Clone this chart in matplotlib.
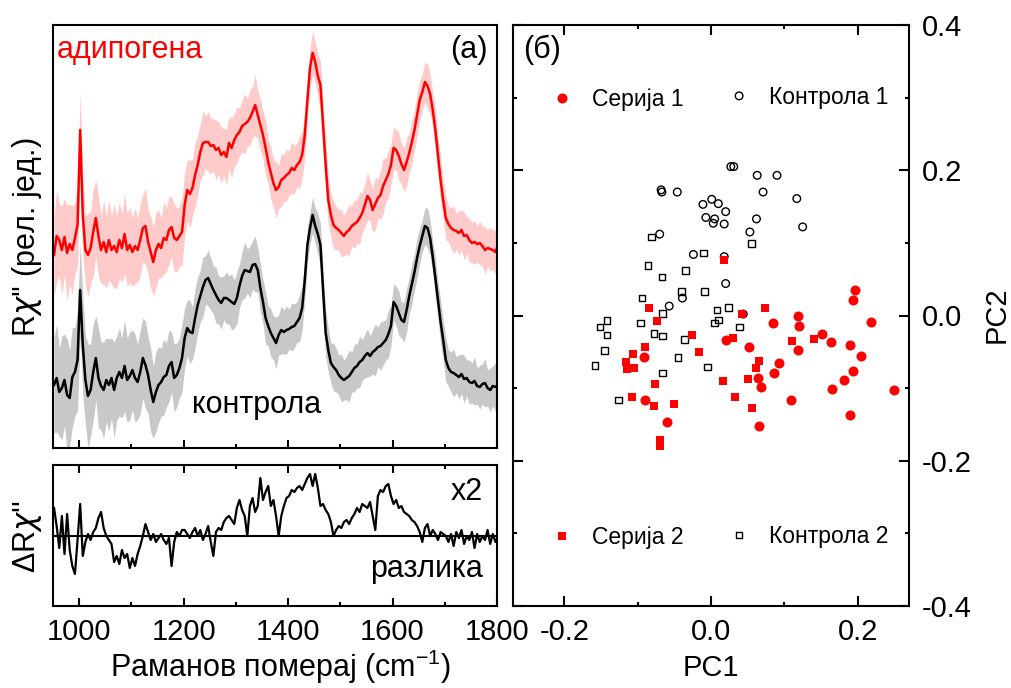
import numpy as np
import matplotlib
matplotlib.use("Agg")
import matplotlib.pyplot as plt
from matplotlib.ticker import MultipleLocator

plt.rcParams['font.family'] = ['Liberation Sans', 'DejaVu Sans']
plt.rcParams['mathtext.fontset'] = 'custom'
plt.rcParams['mathtext.rm'] = 'Liberation Sans'
plt.rcParams['mathtext.it'] = 'DejaVu Sans:italic'
plt.rcParams['mathtext.default'] = 'regular'
plt.rcParams['font.size'] = 21

# ---------------- Raman spectra (arbitrary units) ----------------
shift = np.arange(952, 1803, 5)  # Raman shift, cm^-1

adipo = np.array([
    193, 212, 208, 198, 211, 195, 204, 198, 210, 223,
    318, 233, 198, 193, 200, 216, 230, 212, 198, 206,
    196, 208, 198, 202, 196, 208, 200, 214, 198, 203,
    196, 202, 198, 208, 220, 222, 206, 196, 186, 198,
    204, 200, 210, 208, 218, 221, 210, 208, 212, 216,
    243, 258, 254, 260, 273, 283, 296, 305, 306, 306,
    302, 303, 298, 300, 293, 296, 291, 305, 300, 308,
    313, 316, 322, 324, 326, 330, 336, 343, 333, 323,
    313, 300, 286, 275, 265, 258, 261, 268, 270, 273,
    275, 280, 278, 283, 286, 293, 313, 348, 380, 395,
    386, 372, 363, 323, 283, 248, 233, 223, 220, 218,
    215, 212, 216, 218, 222, 224, 226, 230, 235, 243,
    252, 248, 238, 244, 250, 253, 262, 268, 274, 283,
    300, 298, 292, 284, 278, 286, 295, 306, 318, 333,
    348, 356, 366, 362, 354, 338, 318, 293, 268, 248,
    230, 224, 220, 218, 217, 215, 218, 212, 213, 208,
    205, 206, 204, 205, 202, 198, 200, 199, 198, 196,
    203])

adipo_sd = np.array([
    40, 46, 36, 44, 38, 48, 40, 44, 36, 42,
    38, 40, 34, 42, 36, 44, 38, 40, 34, 42,
    36, 40, 34, 42, 36, 38, 34, 40, 36, 38,
    34, 38, 32, 36, 34, 38, 32, 36, 34, 38,
    34, 30, 36, 32, 34, 30, 34, 32, 30, 34,
    32, 30, 34, 28, 32, 30, 28, 32, 26, 30,
    28, 26, 30, 26, 28, 24, 28, 26, 30, 26,
    28, 24, 26, 30, 24, 28, 26, 30, 24, 26,
    24, 28, 22, 26, 24, 28, 22, 26, 24, 26,
    22, 26, 24, 22, 26, 24, 22, 20, 20, 22,
    20, 22, 24, 22, 26, 24, 22, 24, 22, 20,
    24, 20, 22, 26, 20, 24, 22, 26, 20, 22,
    24, 20, 22, 26, 20, 24, 28, 22, 24, 20,
    22, 20, 24, 20, 22, 24, 20, 22, 20, 22,
    20, 18, 20, 22, 20, 18, 22, 20, 22, 20,
    22, 18, 20, 24, 18, 22, 20, 24, 18, 22,
    20, 22, 18, 22, 20, 24, 18, 22, 20, 22,
    20])

control = np.array([
    63, 70, 56, 60, 68, 53, 50, 71, 76, 88,
    158, 103, 68, 52, 58, 76, 90, 70, 62, 58,
    68, 63, 70, 58, 70, 76, 70, 82, 68, 72,
    78, 70, 66, 76, 90, 83, 73, 58, 46, 56,
    63, 66, 71, 73, 82, 86, 70, 73, 80, 90,
    110, 120, 116, 115, 130, 143, 152, 161, 168, 170,
    164, 158, 153, 148, 145, 150, 150, 148, 146, 144,
    150, 162, 172, 178, 177, 176, 183, 184, 178, 160,
    146, 130, 122, 115, 110, 105, 113, 118, 116, 118,
    119, 121, 122, 126, 130, 140, 168, 203, 220, 233,
    222, 214, 203, 158, 115, 98, 85, 81, 78, 73,
    70, 68, 70, 72, 76, 80, 82, 86, 88, 92,
    95, 92, 96, 98, 101, 102, 105, 108, 114, 122,
    146, 142, 135, 128, 126, 138, 152, 164, 176, 190,
    202, 212, 222, 220, 210, 191, 170, 148, 126, 108,
    88, 80, 76, 75, 73, 71, 74, 69, 70, 66,
    65, 67, 62, 61, 64, 65, 60, 58, 62, 61,
    63])

control_sd = np.array([
    48, 54, 44, 52, 46, 56, 48, 50, 44, 50,
    46, 50, 44, 52, 46, 48, 42, 50, 44, 48,
    42, 46, 40, 48, 42, 44, 40, 46, 42, 44,
    40, 44, 38, 42, 40, 44, 38, 42, 36, 40,
    38, 34, 38, 32, 36, 30, 34, 32, 30, 34,
    30, 28, 32, 26, 30, 28, 26, 30, 24, 28,
    26, 24, 28, 24, 26, 22, 26, 24, 28, 24,
    26, 22, 24, 28, 22, 26, 24, 28, 22, 24,
    22, 26, 20, 24, 22, 26, 20, 24, 22, 24,
    20, 24, 22, 20, 24, 22, 20, 18, 16, 18,
    18, 20, 22, 20, 24, 22, 20, 24, 22, 20,
    24, 20, 22, 26, 20, 24, 22, 26, 20, 22,
    24, 20, 22, 26, 20, 24, 22, 20, 24, 20,
    18, 20, 22, 18, 20, 22, 18, 20, 18, 20,
    18, 16, 18, 20, 18, 16, 20, 18, 22, 20,
    22, 18, 20, 24, 18, 22, 20, 24, 18, 22,
    20, 24, 18, 22, 20, 24, 18, 22, 20, 24,
    20])

# difference spectrum (already multiplied by 2)
difference = np.array([
    28, 10, -12, 20, -18, 22, -14, -30, -38, -4,
    32, -20, -6, 2, -4, 4, 8, 18, 24, 8,
    0, -4, -8, -26, -20, -28, -14, -22, -18, -32,
    -22, -30, -18, -10, 0, 12, 4, -4, 2, -6,
    -2, 2, -4, -8, -2, -30, -6, 4, 0, 6,
    6, 2, -2, 4, 8, 0, 6, -4, 2, 10,
    -6, -20, 4, 8, 6, 14, 18, 20, 16, 12,
    28, 36, 26, 20, 0, 30, 38, 24, 30, 58,
    36, 44, 50, 30, 36, 20, 0, 20, 30, 38,
    40, 46, 44, 48, 50, 46, 52, 58, 62, 50,
    62, 48, 30, 32, 26, 22, 14, 0, 6, 10,
    8, 14, 16, 12, 18, 22, 28, 24, 32, 30,
    28, 34, 20, 6, 40, 46, 44, 50, 52, 40,
    32, 36, 28, 30, 24, 22, 20, 16, 14, 10,
    4, -6, 8, 12, 0, 6, 2, -4, 4, 2,
    0, -6, 2, -10, 4, -2, 6, -8, 0, -4,
    4, -12, 2, -6, 0, -4, 6, -8, 2, -6,
    0])

for arr in (adipo, adipo_sd, control, control_sd, difference):
    assert len(arr) == len(shift)

# ---------------- PCA scores ----------------
ser1_pc1 = [0.196, 0.193, 0.118, 0.085, 0.120, 0.218, 0.152, 0.163, 0.190,
            0.021, 0.052, 0.119, -0.091, 0.204, 0.093, 0.086, 0.194, 0.064,
            0.068, 0.181, 0.165, 0.249, -0.090, 0.109, 0.190, -0.060, 0.065]
ser1_pc2 = [0.035, 0.022, 0.000, -0.010, -0.014, -0.009, -0.026, -0.037, -0.040,
            -0.034, -0.043, -0.047, -0.057, -0.056, -0.065, -0.079, -0.077, -0.086,
            -0.098, -0.089, -0.101, -0.103, -0.116, -0.117, -0.137, -0.146, -0.152]

ser2_pc1 = [0.018, -0.084, -0.074, 0.042, 0.073, -0.026, -0.090, -0.106, -0.116,
            -0.115, -0.105, -0.017, 0.030, 0.111, 0.141, 0.066, 0.062, 0.017,
            0.050, -0.076, -0.108, -0.078, -0.050, 0.033, 0.056, -0.069, -0.070]
ser2_pc2 = [0.076, 0.011, -0.008, 0.002, 0.011, -0.027, -0.043, -0.053, -0.064,
            -0.074, -0.072, -0.050, -0.031, -0.035, -0.033, -0.063, -0.072, -0.090,
            -0.088, -0.095, -0.112, -0.124, -0.122, -0.112, -0.128, -0.171, -0.180]

ctrl1_pc1 = [-0.068, -0.067, -0.046, -0.011, 0.001, 0.010, 0.020, -0.007, 0.005,
             0.003, 0.018, 0.027, 0.031, 0.063, 0.090, 0.071, 0.117, 0.062,
             0.125, 0.053, -0.070, -0.024, 0.018, 0.020, -0.039, -0.057, 0.044]
ctrl1_pc2 = [0.173, 0.170, 0.170, 0.153, 0.160, 0.154, 0.143, 0.135, 0.133,
             0.127, 0.126, 0.205, 0.205, 0.193, 0.193, 0.170, 0.161, 0.133,
             0.122, 0.115, 0.112, 0.084, 0.081, 0.044, 0.024, 0.013, 0.002]

ctrl2_pc1 = [-0.081, -0.010, 0.055, -0.086, -0.067, -0.035, -0.040, -0.009, -0.094,
             -0.066, 0.008, 0.024, -0.142, -0.151, -0.142, -0.096, -0.078, -0.066,
             -0.036, 0.005, 0.010, 0.039, -0.145, -0.158, -0.045, -0.066, -0.005,
             -0.126]
ctrl2_pc2 = [0.108, 0.086, 0.099, 0.069, 0.053, 0.062, 0.033, 0.033, 0.024,
             0.003, 0.008, 0.011, -0.007, -0.016, -0.027, -0.010, -0.025, -0.028,
             -0.033, -0.010, -0.006, -0.016, -0.048, -0.069, -0.058, -0.079, -0.071,
             -0.116]

RED = '#ff0000'
PINK = '#ffcaca'
GREY = '#c8c8c8'
TXT = 22

W, H = 1011, 688
fig = plt.figure(figsize=(W / 100, H / 100), dpi=100)


def box(x0, y0, x1, y1):
    return [x0 / W, 1 - y1 / H, (x1 - x0) / W, (y1 - y0) / H]


def px(x, y):
    return x / W, 1 - y / H


ax_top = fig.add_axes(box(53, 25, 497, 448))
ax_diff = fig.add_axes(box(53, 465, 497, 606))
ax_pca = fig.add_axes(box(513, 25, 909, 606))

for ax in (ax_top, ax_diff, ax_pca):
    for sp in ax.spines.values():
        sp.set_linewidth(1.5)

# ---- spectra ----
ax_top.fill_between(shift, adipo - adipo_sd, adipo + adipo_sd, color=PINK, lw=0)
ax_top.fill_between(shift, control - control_sd, control + control_sd, color=GREY, lw=0)
ax_top.plot(shift, control, color='black', lw=1.8)
ax_top.plot(shift, adipo, color=RED, lw=1.8)
ax_top.set_xlim(950, 1800)
ax_top.set_ylim(0, 423)
ax_top.set_yticks([])
ax_top.xaxis.set_major_locator(MultipleLocator(200))
ax_top.xaxis.set_minor_locator(MultipleLocator(100))
ax_top.tick_params(axis='x', which='both', direction='in', bottom=True, top=False,
                   labelbottom=False, width=1.5)
ax_top.tick_params(axis='x', which='major', length=6)
ax_top.tick_params(axis='x', which='minor', length=3)

ax_diff.axhline(0, color='black', lw=1.5)
ax_diff.plot(shift, difference, color='black', lw=1.6)
ax_diff.set_xlim(950, 1800)
ax_diff.set_ylim(-70, 71)
ax_diff.set_yticks([])
ax_diff.xaxis.set_major_locator(MultipleLocator(200))
ax_diff.xaxis.set_minor_locator(MultipleLocator(100))
ax_diff.tick_params(axis='x', which='both', direction='in', bottom=True, top=True,
                    width=1.5, pad=9)
ax_diff.tick_params(axis='x', which='major', length=6)
ax_diff.tick_params(axis='x', which='minor', length=3)

CHI = r'$\mathit{\chi}$'
fig.text(*px(57, 50), 'адипогена', color=RED, ha='left', va='center', fontsize=TXT)
fig.text(*px(488, 50), '(а)', ha='right', va='center', fontsize=TXT)
fig.text(*px(257, 405), 'контрола', ha='center', va='center', fontsize=TXT)
fig.text(*px(483, 492), 'x2', ha='right', va='center', fontsize=TXT)
fig.text(*px(483, 569), 'разлика', ha='right', va='center', fontsize=TXT)
fig.text(*px(27, 237), "R" + CHI + "'' (рел. јед.)", rotation=90,
         ha='center', va='center', fontsize=TXT)
fig.text(*px(27, 537), "\u0394R" + CHI + "''", rotation=90,
         ha='center', va='center', fontsize=TXT)
fig.text(*px(280, 667), 'Раманов померај (cm$^{-1}$)', ha='center', va='center',
         fontsize=TXT)

# ---- PCA scores ----
ax_pca.scatter(ctrl1_pc1, ctrl1_pc2, s=30, marker='o', facecolors='none',
               edgecolors='black', linewidths=1.0, zorder=3)
ax_pca.scatter(ctrl2_pc1, ctrl2_pc2, s=21, marker='s', facecolors='none',
               edgecolors='black', linewidths=1.0, zorder=3)
ax_pca.scatter(ser2_pc1, ser2_pc2, s=34, marker='s', color=RED, lw=0, zorder=4)
ax_pca.scatter(ser1_pc1, ser1_pc2, s=52, marker='o', color=RED, lw=0, zorder=4)
ax_pca.set_xlim(-0.27, 0.27)
ax_pca.set_ylim(-0.4, 0.4)
ax_pca.xaxis.set_major_locator(MultipleLocator(0.2))
ax_pca.xaxis.set_minor_locator(MultipleLocator(0.1))
ax_pca.yaxis.set_major_locator(MultipleLocator(0.2))
ax_pca.yaxis.set_minor_locator(MultipleLocator(0.1))
ax_pca.xaxis.set_major_formatter(lambda v, p: f'{v:.1f}')
ax_pca.yaxis.set_major_formatter(lambda v, p: f'{v:.1f}')
ax_pca.tick_params(which='both', direction='in', top=True, bottom=True, left=True,
                   right=True, labelleft=False, labelright=True, width=1.5)
ax_pca.tick_params(axis='x', pad=9)
ax_pca.tick_params(axis='y', pad=9)
ax_pca.tick_params(which='major', length=7)
ax_pca.tick_params(which='minor', length=3)

fig.text(*px(711, 668), 'PC1', ha='center', va='center')
fig.text(*px(997, 315), 'PC2', rotation=90, ha='center', va='center')
fig.text(*px(523, 50), '(б)', ha='left', va='center', fontsize=TXT)

# legend entries
ax_pca.scatter([0.124], [0.874], s=52, marker='o', color=RED, lw=0,
               transform=ax_pca.transAxes, clip_on=False)
ax_pca.scatter([0.571], [0.878], s=30, marker='o', facecolors='none',
               edgecolors='black', linewidths=1.0, transform=ax_pca.transAxes)
ax_pca.scatter([0.124], [0.120], s=34, marker='s', color=RED, lw=0,
               transform=ax_pca.transAxes)
ax_pca.scatter([0.571], [0.122], s=21, marker='s', facecolors='none',
               edgecolors='black', linewidths=1.0, transform=ax_pca.transAxes)
leg_fs = 16.5
ax_pca.text(0.199, 0.872, 'Серија 1', transform=ax_pca.transAxes, fontsize=leg_fs,
            ha='left', va='center')
ax_pca.text(0.646, 0.876, 'Контрола 1', transform=ax_pca.transAxes, fontsize=leg_fs,
            ha='left', va='center')
ax_pca.text(0.199, 0.118, 'Серија 2', transform=ax_pca.transAxes, fontsize=leg_fs,
            ha='left', va='center')
ax_pca.text(0.646, 0.120, 'Контрола 2', transform=ax_pca.transAxes, fontsize=leg_fs,
            ha='left', va='center')

fig.savefig('out.png', dpi=100)
